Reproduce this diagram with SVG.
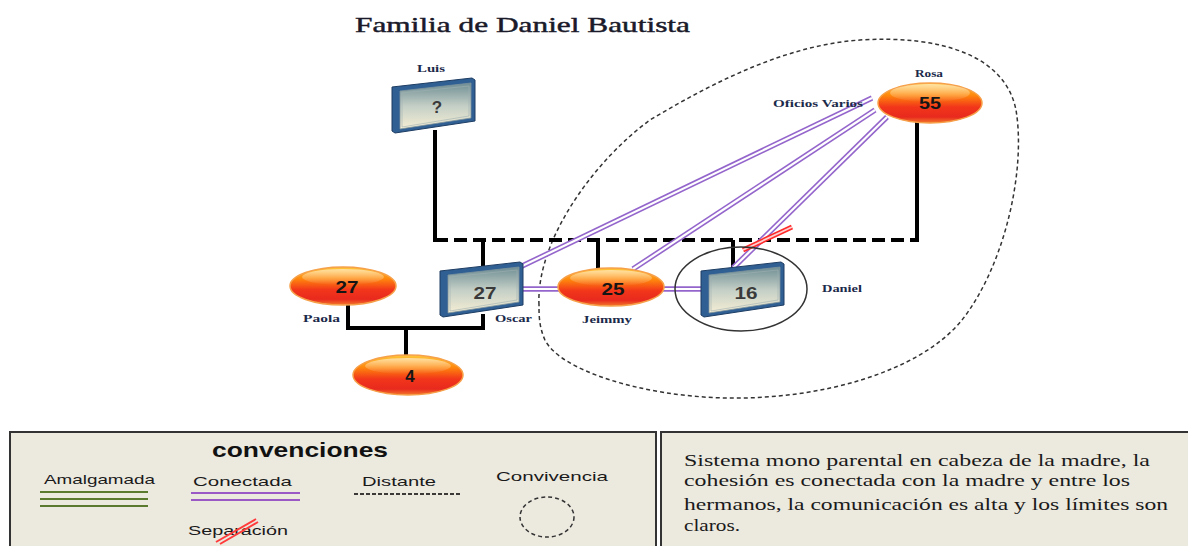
<svg xmlns="http://www.w3.org/2000/svg" xmlns:xlink="http://www.w3.org/1999/xlink" width="1188" height="546" viewBox="0 0 1188 546">
<defs>
<style>
.fam{stroke:#000;stroke-width:4;fill:none}
.dist{stroke:#000;stroke-width:4;fill:none;stroke-dasharray:13 6}
.conA{stroke:#9466CC;stroke-width:5.4;fill:none}
.conB{stroke:#fff;stroke-width:2.2;fill:none}
.sepA{stroke:#FF2A2A;stroke-width:5;fill:none}
.sepB{stroke:#FFD0D0;stroke-width:1.8;fill:none}
.orb{fill:url(#orb);stroke:#F6A04A;stroke-width:1.5}
.gloss{fill:url(#gloss)}
.num{font-family:"Liberation Sans",Arial,sans-serif;font-weight:bold;font-size:17px;fill:#151515;text-anchor:middle}
.bnum{font-family:"Liberation Sans",Arial,sans-serif;font-weight:bold;font-size:17px;fill:#3a3a3a;text-anchor:middle}
.lbl{font-family:"Liberation Serif","Times New Roman",serif;font-weight:bold;font-size:10px;fill:#1b2a4a}
.leg{font-family:"Liberation Sans",Arial,sans-serif;font-size:13px;fill:#1a1a1a}
.note{font-family:"Liberation Serif","Times New Roman",serif;font-size:17px;fill:#1a1a1a}
.panel{fill:#ECE9DF;stroke:#333;stroke-width:2}
</style>
<linearGradient id="orb" x1="0" y1="0" x2="0" y2="1">
<stop offset="0" stop-color="#FFC83A"/>
<stop offset="0.3" stop-color="#FF8A0C"/>
<stop offset="0.6" stop-color="#F2361A"/>
<stop offset="0.85" stop-color="#E8291E"/>
<stop offset="1" stop-color="#F27A2A"/>
</linearGradient>
<linearGradient id="gloss" x1="0" y1="0" x2="0" y2="1">
<stop offset="0" stop-color="#fff" stop-opacity="0.55"/>
<stop offset="1" stop-color="#fff" stop-opacity="0"/>
</linearGradient>
<linearGradient id="screen" x1="0" y1="0" x2="0" y2="1">
<stop offset="0" stop-color="#6F8E94"/>
<stop offset="0.5" stop-color="#C4CFC6"/>
<stop offset="1" stop-color="#F5EED4"/>
</linearGradient>
<g id="box">
<polygon points="0,9 80,0 83,2 83,43 3,55 0,53" fill="#2F5F93" stroke="#1E3D63" stroke-width="1"/>
<polygon points="8,13 79,5 79,40 8,51" fill="url(#screen)" stroke="#7D939C" stroke-width="0.8"/>
<polygon points="10,15 77,8 77,38 10,49" fill="none" stroke="#9FB0B2" stroke-width="0.6"/>
</g>
</defs>

<rect width="1188" height="546" fill="#fff"/>

<text id="title" x="355" y="32" font-family="'Liberation Serif','Times New Roman',serif" font-size="22" fill="#1a1a2a" stroke="#1a1a2a" stroke-width="0.45" textLength="335" lengthAdjust="spacingAndGlyphs">Familia de Daniel Bautista</text>

<path id="convivencia" d="M539,305 C536,240 595,160 650,120 C720,78 790,45 860,40 C940,35 1005,55 1016,110 C1026,170 1005,265 962,320 C920,372 820,400 725,398 C640,396 560,370 545,340 C539,327 539,315 539,305 Z" fill="none" stroke="#333" stroke-width="1.5" stroke-dasharray="4 3"/>

<g id="connectors">
<path class="fam" d="M435,130 V242"/>
<path class="fam" d="M917,122 V242"/>
<path class="dist" d="M435,240 H919"/>
<path class="fam" d="M483,240 V266"/>
<path class="fam" d="M598,240 V269"/>
<path class="fam" d="M733,240 V268"/>
<path class="fam" d="M348,304 V328 H483 V314"/>
<path class="fam" d="M406,328 V355"/>
<g id="rosa-oscar"><path class="conA" d="M872,98 L520,267"/><path class="conB" d="M872,98 L520,267"/></g>
<g id="rosa-jeimmy"><path class="conA" d="M875,110 L633,269"/><path class="conB" d="M875,110 L633,269"/></g>
<g id="rosa-daniel"><path class="conA" d="M887,117 L733,268"/><path class="conB" d="M887,117 L733,268"/></g>
<g id="oscar-jeimmy"><path class="conA" d="M520,289 H562"/><path class="conB" d="M520,289 H562"/></g>
<g id="jeimmy-daniel"><path class="conA" d="M662,289 H706"/><path class="conB" d="M662,289 H706"/></g>
<g id="separacion"><path class="sepA" d="M743,250 L792,227"/><path class="sepB" d="M743,250 L792,227"/></g>
</g>

<ellipse id="daniel-circle" cx="741" cy="289" rx="66" ry="42" fill="none" stroke="#333" stroke-width="1.5"/>

<g id="luis">
<use href="#box" x="392" y="78"/>
<text class="bnum" x="437" y="113" font-size="15">?</text>
<text class="lbl" x="417" y="72" textLength="28" lengthAdjust="spacingAndGlyphs">Luis</text>
</g>

<g id="rosa">
<ellipse class="orb" cx="930" cy="103" rx="52" ry="20"/>
<ellipse class="gloss" cx="930" cy="93" rx="40" ry="9"/>
<text class="num" x="930" y="109" textLength="22" lengthAdjust="spacingAndGlyphs">55</text>
<text class="lbl" x="915" y="77" textLength="28" lengthAdjust="spacingAndGlyphs">Rosa</text>
<text class="lbl" x="773" y="107" textLength="90" lengthAdjust="spacingAndGlyphs">Oficios Varios</text>
</g>

<g id="paola">
<ellipse class="orb" cx="343" cy="286" rx="53" ry="19"/>
<ellipse class="gloss" cx="343" cy="277" rx="41" ry="8"/>
<text class="num" x="347" y="293" textLength="23" lengthAdjust="spacingAndGlyphs">27</text>
<text class="lbl" x="303" y="322" textLength="37" lengthAdjust="spacingAndGlyphs">Paola</text>
</g>

<g id="oscar">
<use href="#box" x="440" y="262"/>
<text class="bnum" x="485" y="299" textLength="23" lengthAdjust="spacingAndGlyphs">27</text>
<text class="lbl" x="495" y="322" textLength="37" lengthAdjust="spacingAndGlyphs">Oscar</text>
</g>

<g id="jeimmy">
<ellipse class="orb" cx="611" cy="287" rx="53" ry="19"/>
<ellipse class="gloss" cx="611" cy="278" rx="41" ry="8"/>
<text class="num" x="613" y="295" textLength="23" lengthAdjust="spacingAndGlyphs">25</text>
<text class="lbl" x="582" y="323" textLength="50" lengthAdjust="spacingAndGlyphs">Jeimmy</text>
</g>

<g id="daniel">
<use href="#box" x="701" y="262"/>
<text class="bnum" x="746" y="299" textLength="23" lengthAdjust="spacingAndGlyphs">16</text>
<text class="lbl" x="822" y="292" textLength="40" lengthAdjust="spacingAndGlyphs">Daniel</text>
</g>

<g id="hijo">
<ellipse class="orb" cx="408" cy="375" rx="55" ry="20"/>
<ellipse class="gloss" cx="408" cy="366" rx="43" ry="8"/>
<text class="num" x="410" y="382">4</text>
</g>

<g id="legend">
<rect class="panel" x="10" y="432" width="646" height="120"/>
<text x="300" y="457" text-anchor="middle" font-family="'Liberation Sans',Arial,sans-serif" font-weight="bold" font-size="21" fill="#111" textLength="176" lengthAdjust="spacingAndGlyphs">convenciones</text>
<text class="leg" x="44" y="484" textLength="111" lengthAdjust="spacingAndGlyphs">Amalgamada</text>
<path d="M40,492 H148 M40,499 H148 M40,506 H148" stroke="#5B7A2E" stroke-width="2" fill="none"/>
<text class="leg" x="193" y="486" textLength="99" lengthAdjust="spacingAndGlyphs">Conectada</text>
<path d="M191,493 H300 M191,500 H300" stroke="#9B59C6" stroke-width="2" fill="none"/>
<text class="leg" x="362" y="486" textLength="74" lengthAdjust="spacingAndGlyphs">Distante</text>
<path d="M354,494 H462" stroke="#000" stroke-width="1.5" stroke-dasharray="4 2" fill="none"/>
<text class="leg" x="496" y="481" textLength="112" lengthAdjust="spacingAndGlyphs">Convivencia</text>
<ellipse cx="547" cy="517" rx="27" ry="20" fill="none" stroke="#333" stroke-width="1.5" stroke-dasharray="4 3"/>
<text class="leg" x="188" y="535" textLength="100" lengthAdjust="spacingAndGlyphs">Separación</text>
<path d="M216,542 L256,519 M220,544 L258,522" stroke="#FF3B3B" stroke-width="2" fill="none"/>
</g>

<g id="nota">
<rect class="panel" x="661" y="432" width="534" height="120"/>
<text class="note" x="684" y="466" textLength="466" lengthAdjust="spacingAndGlyphs">Sistema mono parental en cabeza  de la madre,   la</text>
<text class="note" x="684" y="486" textLength="446" lengthAdjust="spacingAndGlyphs">cohesión es conectada con la madre y entre los</text>
<text class="note" x="684" y="510" textLength="484" lengthAdjust="spacingAndGlyphs">hermanos, la comunicación es alta y los límites son</text>
<text class="note" x="684" y="531" textLength="56" lengthAdjust="spacingAndGlyphs">claros.</text>
</g>
</svg>
